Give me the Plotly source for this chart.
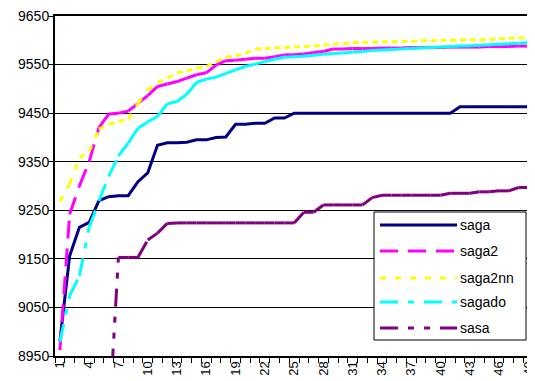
import plotly.graph_objects as go

categories = list(range(1, 51))
tick_labels = [str(c) for c in range(1, 50, 3)]

saga = [8980, 9156, 9215, 9225, 9270, 9278, 9280, 9280, 9309, 9327,
        9384, 9389, 9389, 9390, 9395, 9395, 9400, 9401, 9427, 9427,
        9429, 9429, 9440, 9440, 9450, 9450, 9450, 9450, 9450, 9450,
        9450, 9450, 9450, 9450, 9450, 9450, 9450, 9450, 9450, 9450,
        9450, 9463, 9463, 9463, 9463, 9463, 9463, 9463, 9463, 9463]
saga2 = [8962, 9242, 9300, 9350, 9420, 9448, 9450, 9454, 9470, 9486,
         9505, 9510, 9515, 9522, 9529, 9533, 9549, 9558, 9559, 9561,
         9563, 9563, 9566, 9570, 9570, 9572, 9575, 9577, 9582, 9582,
         9583, 9583, 9583, 9584, 9584, 9584, 9585, 9585, 9585, 9585,
         9586, 9586, 9586, 9586, 9587, 9587, 9587, 9588, 9588, 9588]
saga2nn = [9268, 9305, 9358, 9371, 9417, 9427, 9432, 9438, 9470, 9498,
           9513, 9522, 9533, 9537, 9542, 9546, 9556, 9565, 9568, 9573,
           9582, 9583, 9584, 9585, 9586, 9587, 9588, 9590, 9592, 9593,
           9595, 9596, 9596, 9597, 9597, 9598, 9598, 9599, 9599, 9600,
           9600, 9600, 9601, 9601, 9602, 9603, 9604, 9605, 9605, 9606]
sagado = [8979, 9074, 9115, 9215, 9269, 9320, 9362, 9388, 9419, 9432,
          9443, 9469, 9474, 9489, 9513, 9520, 9524, 9532, 9539, 9546,
          9551, 9556, 9561, 9565, 9566, 9567, 9569, 9571, 9573, 9574,
          9576, 9577, 9579, 9580, 9581, 9582, 9583, 9584, 9585, 9586,
          9587, 9588, 9589, 9590, 9591, 9592, 9593, 9594, 9595, 9596]
sasa = [None, None, None, None, None, 8805, 9153, 9153, 9153, 9189,
        9203, 9223, 9224, 9224, 9224, 9224, 9224, 9224, 9224, 9224,
        9224, 9224, 9224, 9224, 9224, 9246, 9246, 9261, 9261, 9261,
        9261, 9261, 9276, 9281, 9281, 9281, 9281, 9281, 9281, 9281,
        9285, 9285, 9285, 9288, 9288, 9290, 9290, 9297, 9297, 9297]

series_names = ["saga", "saga2", "saga2nn", "sagado", "sasa"]
series_values = [saga, saga2, saga2nn, sagado, sasa]
series_colors = ["#000080", "#FF00FF", "#FFFF00", "#00FFFF", "#800080"]
series_dashes = ["solid", "18px,10px", "6px,9px",
                 "18px,10px,6px,10px", "18px,10px,6px,10px,6px,10px"]

FONT = "Arial, Liberation Sans, sans-serif"
LW = 3

fig = go.Figure()

# data: Excel restarts the dash pattern on every segment
for name, vals, color, dash in zip(series_names, series_values, series_colors, series_dashes):
    if dash == "solid":
        fig.add_trace(go.Scatter(
            x=categories, y=vals, mode="lines", name=name,
            line=dict(color=color, width=LW), showlegend=False, hoverinfo="skip"))
        continue
    for i in range(len(categories) - 1):
        a, b = vals[i], vals[i + 1]
        if a is None or b is None:
            continue
        fig.add_trace(go.Scatter(
            x=categories[i:i + 2], y=[a, b], mode="lines", name=name,
            line=dict(color=color, width=LW, dash=dash),
            showlegend=False, hoverinfo="skip"))

# Excel-style legend box (long line samples)
box_x0, box_x1, box_y0, box_y1 = 0.6537, 0.9652, 0.047, 0.4235
shapes = [dict(type="rect", xref="paper", yref="paper",
               x0=box_x0, x1=box_x1, y0=box_y0, y1=box_y1,
               fillcolor="white", line=dict(color="black", width=1), layer="above")]
annotations = []
item_ys = [0.3853, 0.3088, 0.2294, 0.1588, 0.0824]
for name, color, dash, yy in zip(series_names, series_colors, series_dashes, item_ys):
    shapes.append(dict(type="line", xref="paper", yref="paper",
                       x0=0.6660, x1=0.8238, y0=yy, y1=yy,
                       line=dict(color=color, width=LW, dash=dash), layer="above"))
    annotations.append(dict(xref="paper", yref="paper", x=0.8258, y=yy,
                            xanchor="left", yanchor="middle", text=name,
                            showarrow=False, font=dict(family=FONT, size=14, color="black")))

# page body has an 8px margin: figure offset by 8px; plot area runs past the right edge
fig.update_layout(
    width=535, height=373, autosize=False,
    margin=dict(l=47, r=0, t=8, b=25, pad=0),
    paper_bgcolor="white", plot_bgcolor="white",
    font=dict(family=FONT, size=13, color="black"),
    showlegend=False,
    shapes=shapes, annotations=annotations,
    xaxis=dict(
        range=[0.5, 50.5], showgrid=False, zeroline=False,
        showline=True, linecolor="black", linewidth=2, mirror=True,
        tickmode="array", tickvals=list(range(1, 50, 3)), ticktext=tick_labels,
        ticks="", tickangle=-90, tickfont=dict(size=13), ticklabelstandoff=-2,
        ticklabeloverflow="allow",
        minor=dict(ticks="outside", ticklen=5, tickcolor="black", tickwidth=1,
                   tickmode="linear", tick0=0.5, dtick=1, showgrid=False),
        automargin=False,
    ),
    yaxis=dict(
        range=[8950, 9650], tickmode="linear", tick0=8950, dtick=100,
        showgrid=True, gridcolor="black", gridwidth=1, zeroline=False,
        showline=True, linecolor="black", linewidth=2,
        ticks="outside", ticklen=5, tickcolor="black",
        tickfont=dict(size=14), ticklabelstandoff=-4, ticklabeloverflow="allow",
        automargin=False,
    ),
)

fig.write_html("out.html")
